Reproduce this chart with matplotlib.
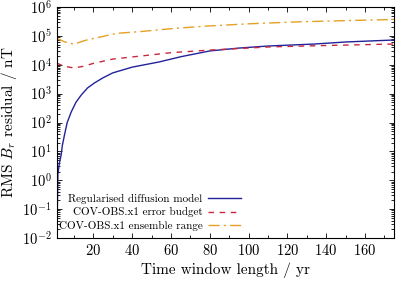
import matplotlib
matplotlib.use("Agg")
import matplotlib.pyplot as plt
from matplotlib.ticker import MultipleLocator, LogLocator, NullFormatter

plt.rcParams['font.family'] = 'serif'
plt.rcParams['font.serif'] = ['cmr10']
plt.rcParams['mathtext.fontset'] = 'cm'
plt.rcParams['axes.formatter.use_mathtext'] = True

# Regularised diffusion model
t_model = [1.3, 1.7, 2.5, 3.4, 4, 5.1, 6.5, 8.6, 11, 13.7, 17, 20.5, 25, 30,
           40, 54, 65, 80, 95, 110, 134, 150, 175]
rms_model = [0.025, 1.6, 4.0, 7.6, 16, 37, 100, 234, 500, 890, 1580, 2340,
             3550, 5250, 8300, 12600, 19000, 30200, 38000, 44700, 52500,
             61700, 72400]

# COV-OBS.x1 error budget
t_err = [1, 5, 10, 15, 20, 30, 44, 60, 80, 111, 134, 175]
rms_err = [11500, 8900, 7760, 8900, 11200, 15800, 20000, 26300, 32400,
           41700, 45700, 52500]

# COV-OBS.x1 ensemble range
t_ens = [1, 5, 9, 12, 16, 24, 32, 44, 60, 78, 100, 126, 150, 175]
rms_ens = [83000, 63000, 53700, 57500, 70800, 93300, 123000, 141000, 178000,
           219000, 263000, 309000, 339000, 372000]

fig = plt.figure(figsize=(3.98, 2.83), dpi=100)
ax = fig.add_axes([0.142, 0.159, 0.848, 0.816])

ax.plot(t_model, rms_model, color='#22229a', lw=1.0,
        label='Regularised diffusion model')
ax.plot(t_err, rms_err, color='#c8283c', lw=1.0, dashes=(4, 4),
        label='COV-OBS.x1 error budget')
ax.plot(t_ens, rms_ens, color='#e6a024', lw=1.0, dashes=(8, 3, 1.5, 3),
        label='COV-OBS.x1 ensemble range')

ax.set_yscale('log')
ax.set_xlim(1, 175)
ax.set_ylim(1e-2, 1e6)
ax.xaxis.set_major_locator(MultipleLocator(20))
ax.xaxis.set_minor_locator(MultipleLocator(10))
ax.yaxis.set_major_locator(LogLocator(base=10, numticks=20))
ax.yaxis.set_minor_locator(LogLocator(base=10, subs=range(2, 10), numticks=20))
ax.yaxis.set_minor_formatter(NullFormatter())
ax.tick_params(which='both', direction='in', top=True, right=True,
               labelsize=10.5, width=0.6)
ax.tick_params(which='major', length=3.5)
ax.tick_params(which='minor', length=2)
for s in ax.spines.values():
    s.set_linewidth(0.8)

ax.set_xlabel('Time window length / yr', fontsize=11, labelpad=3)
ax.set_ylabel('RMS $B_r$ residual / nT', fontsize=11)
ax.yaxis.set_label_coords(-0.11, 0.5)

ax.legend(loc='lower right', bbox_to_anchor=(248 / 398, 45 / 283),
          bbox_transform=fig.transFigure, frameon=False, markerfirst=False,
          fontsize=8, handlelength=3, handletextpad=0.5, labelspacing=0.35,
          borderpad=0.1)

fig.savefig('out.png', dpi=100)
